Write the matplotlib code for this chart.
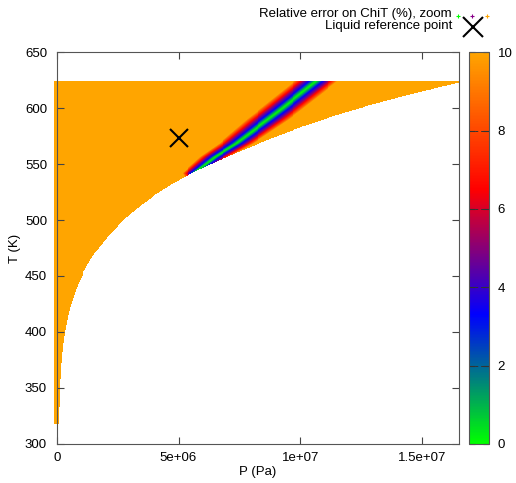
"""Relative error on ChiT over the (P, T) plane, gnuplot-like look."""

import matplotlib

matplotlib.use("Agg")
import matplotlib.pyplot as plt
import numpy as np
from matplotlib.colors import LinearSegmentedColormap
from matplotlib.lines import Line2D
from matplotlib.patches import Rectangle

# saturation curve (T in K, P in Pa)
sat_T = [318.15, 323.15, 333.15, 343.15, 353.15, 363.15, 373.15, 383.15, 393.15,
         403.15, 413.15, 423.15, 433.15, 443.15, 453.15, 463.15, 473.15, 483.15,
         493.15, 503.15, 513.15, 523.15, 533.15, 543.15, 553.15, 563.15, 573.15,
         583.15, 593.15, 603.15, 613.15, 623.15]
sat_P = [9.59e3, 1.235e4, 1.995e4, 3.12e4, 4.74e4, 7.02e4, 1.014e5, 1.434e5, 1.987e5,
         2.703e5, 3.615e5, 4.762e5, 6.182e5, 7.922e5, 1.0028e6, 1.2552e6, 1.5549e6,
         1.9077e6, 2.3196e6, 2.7979e6, 3.3475e6, 3.9762e6, 4.6923e6, 5.55e6,
         6.55e6, 7.62e6, 8.75e6, 9.95e6, 1.132e7, 1.2858e7, 1.4601e7, 1.6529e7]

# zero-error ridge of the band and its half-width
ridge_T = [530.0, 542.0, 556.5, 568.5, 598.0, 623.5]
ridge_P = [6.0e6, 5.65e6, 6.5e6, 7.38e6, 9.16e6, 1.062e7]
width_T = [542.0, 560.0, 590.0, 623.5]
width_P = [0.5e6, 0.65e6, 0.88e6, 0.9e6]

# error across the band vs offset from the ridge (fraction of half-width)
profile_x = [0.0, 0.15, 0.3, 0.53, 0.68, 0.88, 1.0]
profile_err = [0.0, 1.5, 3.3, 5.0, 6.5, 8.5, 10.0]

ref_P, ref_T = 5.0e6, 573.5
cell_dP = 1.0e5          # half size of the plotted cells in P
P_max = 16.53e6
T_min, T_max = 318.0, 624.0

cmap = LinearSegmentedColormap.from_list(
    "err",
    [(0.0, "#00ff00"), (0.33, "#0000ff"), (0.65, "#ff0000"), (1.0, "#ffa500")],
)

P_edges = np.linspace(-cell_dP, P_max + cell_dP, 420)
T_edges = np.linspace(T_min, T_max, 345)
P_c = 0.5 * (P_edges[:-1] + P_edges[1:])
T_c = 0.5 * (T_edges[:-1] + T_edges[1:])
PP, TT = np.meshgrid(P_c, T_c)

half_w = np.interp(TT, width_T, width_P)
dP = np.abs(PP - np.interp(TT, ridge_T, ridge_P)) / half_w
err = np.interp(dP, profile_x, profile_err)
inside = TT >= np.interp(PP - cell_dP, sat_P, sat_T)
err = np.ma.masked_where(~inside, err)

plt.rcParams["font.family"] = ["Liberation Sans", "DejaVu Sans"]
plt.rcParams["font.size"] = 9.5

fig = plt.figure(figsize=(5.16, 4.83), dpi=100)
ax = fig.add_axes([0.110, 0.081, 0.780, 0.811])
cax = fig.add_axes([0.9095, 0.081, 0.0388, 0.811])

mesh = ax.pcolormesh(P_edges, T_edges, err, cmap=cmap, vmin=0, vmax=10,
                     shading="flat", rasterized=True)
# cells spill a little past P = 0, as in the original
mesh.set_clip_path(Rectangle((-1.2e5, 300), P_max + 1.2e5, 350,
                             transform=ax.transData))
ax.plot([ref_P], [ref_T], marker="x", color="black", markersize=13,
        markeredgewidth=1.5, linestyle="none")

ax.set_xlim(0, P_max)
ax.set_ylim(300, 650)
ax.set_xticks([0, 5e6, 1e7, 1.5e7])
ax.set_xticklabels(["0", "5e+06", "1e+07", "1.5e+07"])
ax.set_yticks(np.arange(300, 651, 50))
ax.set_xlabel("P (Pa)", labelpad=1)
ax.set_ylabel("T (K)", labelpad=3)
ax.tick_params(direction="in", top=True, right=True, length=5, width=0.8,
               color="#444444")
ax.tick_params(axis="x", pad=6)
ax.tick_params(axis="y", pad=7)
for s in ax.spines.values():
    s.set_color("#555555")
    s.set_linewidth(0.8)
    s.set_zorder(3)

cb = fig.colorbar(mesh, cax=cax)
cb.set_ticks([0, 2, 4, 6, 8, 10])
cb.outline.set_edgecolor("#555555")
cb.outline.set_linewidth(0.8)
cax.tick_params(direction="in", length=4, width=0.8, color="#333333", pad=6,
                left=True, right=True)
for v in [2, 4, 6, 8]:
    cax.plot([0, 1], [v, v], transform=cax.get_yaxis_transform(),
             color="#333333", lw=0.7, dashes=(3, 3))

# legend drawn by hand, top-right outside the axes
fig.text(452 / 516, 1 - 14 / 483, "Relative error on ChiT (%), zoom",
         ha="right", va="center")
fig.text(452 / 516, 1 - 26 / 483, "Liquid reference point",
         ha="right", va="center")
for px, c in zip([458, 472, 487], ["#00ff00", "#8a008a", "#ffa500"]):
    fig.add_artist(Line2D([px / 516], [1 - 16 / 483], marker="+", color=c,
                          markersize=3, markeredgewidth=0.8,
                          transform=fig.transFigure))
fig.add_artist(Line2D([473 / 516], [1 - 27 / 483], marker="x", color="black",
                      markersize=14, markeredgewidth=1.5,
                      transform=fig.transFigure))

fig.savefig("out.png", dpi=100)
plt.close(fig)
